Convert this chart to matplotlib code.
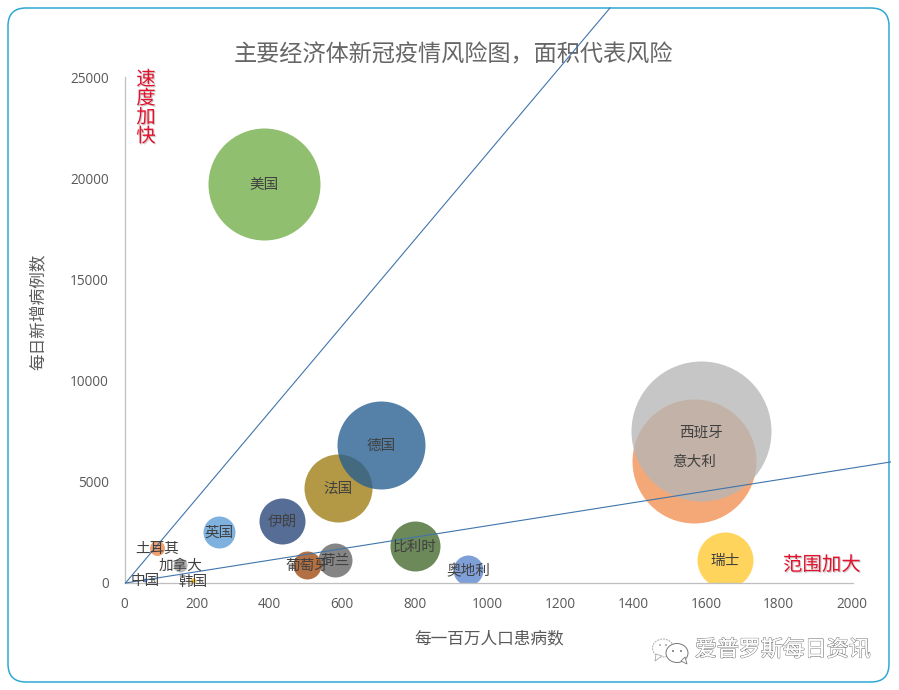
"""Bubble chart: COVID risk by economy, bubble area stands for risk."""

import matplotlib

matplotlib.use("Agg")
import matplotlib.pyplot as plt
import matplotlib.patheffects as pe
from matplotlib.patches import Ellipse, FancyBboxPatch, Polygon
from matplotlib.transforms import ScaledTranslation

plt.rcParams["font.family"] = ["Noto Sans CJK SC", "DejaVu Sans"]

# drawn in this order: Spain sits over Italy, Germany over France
names = ["意大利", "西班牙", "美国", "法国", "德国", "伊朗", "英国", "比利时", "荷兰",
         "葡萄牙", "奥地利", "瑞士", "土耳其", "加拿大", "韩国", "中国"]
cases_per_million = [1563, 1582, 381, 584, 702, 430, 257, 796, 576, 499, 942, 1648, 87, 150, 186, 54]
daily_new = [6034, 7517, 19733, 4698, 6825, 3066, 2522, 1830, 1137, 890, 640, 1137, 1731, 890, 100, 150]
risk = [3844, 4900, 3136, 1156, 1936, 529, 256, 625, 289, 196, 225, 784, 56, 49, 9, 4]
colors = ["#f19052", "#b6b6b6", "#70ad47", "#9e7b10", "#255e91", "#264478", "#5b9bd5", "#43682b",
          "#636363", "#9e480e", "#5b84cd", "#ffc82e", "#ec8747", "#a5a5a5", "#ffc000", "#4472c4"]

line_steep_x = [0, 1332]
line_steep_y = [0, 28440]
line_flat_x = [0, 2103]
line_flat_y = [0, 5984]

W, H = 899, 690
fig = plt.figure(figsize=(W / 100, H / 100), dpi=100, facecolor="white")

# page coordinates in pixels, y going down, for frame and watermark
page = fig.add_axes([0, 0, 1, 1], zorder=0)
page.set(xlim=(0, W), ylim=(H, 0))
page.axis("off")
page.add_patch(FancyBboxPatch((22, 22), 853, 646, boxstyle="round,pad=14,rounding_size=18",
                              fc="white", ec="#2fa8d5", lw=1.1))

ax = fig.add_axes([125.5 / W, 1 - 583 / H, 727.5 / W, 505.5 / H], zorder=1)
ax.patch.set_alpha(0)
ax.set(xlim=(0, 2000), ylim=(0, 25000))
ax.set_xticks(range(0, 2001, 200))
ax.set_yticks(range(0, 25001, 5000))
ax.tick_params(axis="x", length=0, labelsize=9.8, labelcolor="#595959", pad=10)
ax.tick_params(axis="y", length=0, labelsize=9.8, labelcolor="#595959", pad=12)
shift = ScaledTranslation(-1.5 / 100, 0, fig.dpi_scale_trans)
for label in ax.get_xticklabels() + ax.get_yticklabels():
    label.set_fontfamily(["Open Sans", "DejaVu Sans"])
for label in ax.get_xticklabels():
    label.set_transform(label.get_transform() + shift)
for side in ["top", "right"]:
    ax.spines[side].set_visible(False)
for side in ["left", "bottom"]:
    ax.spines[side].set_color("#bfbfbf")
    ax.spines[side].set_linewidth(0.9)

for x, y, r, c in zip(cases_per_million, daily_new, risk, colors):
    ax.scatter(x, y, s=r * 4 * 0.72 ** 2, color=c, alpha=0.78, linewidths=0, zorder=2)

ax.plot(line_steep_x, line_steep_y, color="#3f75ab", lw=0.8, clip_on=False, zorder=3)
ax.plot(line_flat_x, line_flat_y, color="#3f75ab", lw=0.8, clip_on=False, zorder=3)

for x, y, name in zip(cases_per_million, daily_new, names):
    ax.annotate(name, (x, y), xytext=(0, -0.7), textcoords="offset points", ha="center", va="center",
                fontsize=10.5, color="#404040", zorder=4, annotation_clip=False)

ax.set_xlabel("每一百万人口患病数", fontsize=12, color="#595959", labelpad=13.5)
ax.set_ylabel("每日新增病例数", fontsize=12, color="#595959", labelpad=17, y=0.536)

page.text(453.5, 55, "主要经济体新冠疫情风险图，面积代表风险", fontsize=16.7, color="#666666",
          ha="center", va="center")

# red notes
shadow = [pe.withSimplePatchShadow(offset=(0.8, -0.8), shadow_rgbFace="#999999", alpha=0.5)]
page.text(146, 108, "速\n度\n加\n快", fontsize=14, color="#e3122d", ha="center", va="center",
          linespacing=0.87, zorder=5, path_effects=shadow)
page.text(822, 565, "范围加大", fontsize=14, color="#e3122d", ha="center", va="center",
          zorder=5, path_effects=shadow)

# watermark
page.text(783, 650, "爱普罗斯每日资讯", fontsize=15.8, color="white", ha="center", va="center",
          path_effects=[pe.withStroke(linewidth=0.9, foreground="#777777"), pe.Normal()])
page.add_patch(Ellipse((663, 648), 21, 18, fc="white", ec="#aaaaaa", lw=0.7, ls=(0, (2, 1))))
page.add_patch(Polygon([(656, 654), (655, 661), (662, 656)], fc="white", ec="#aaaaaa", lw=0.6))
page.add_patch(Ellipse((677, 653), 22, 19, fc="white", ec="#777777", lw=0.7, zorder=3))
page.add_patch(Polygon([(681, 661), (687, 664), (685, 657)], fc="white", ec="#777777", lw=0.6, zorder=3))
for ex, ey, c in [(660, 645, "#aaaaaa"), (666, 645, "#aaaaaa"), (673, 651, "#777777"), (681, 651, "#777777")]:
    page.add_patch(Ellipse((ex, ey), 2, 2, fc=c, ec="none", zorder=4))

fig.savefig("out.png", dpi=100, facecolor="white")
